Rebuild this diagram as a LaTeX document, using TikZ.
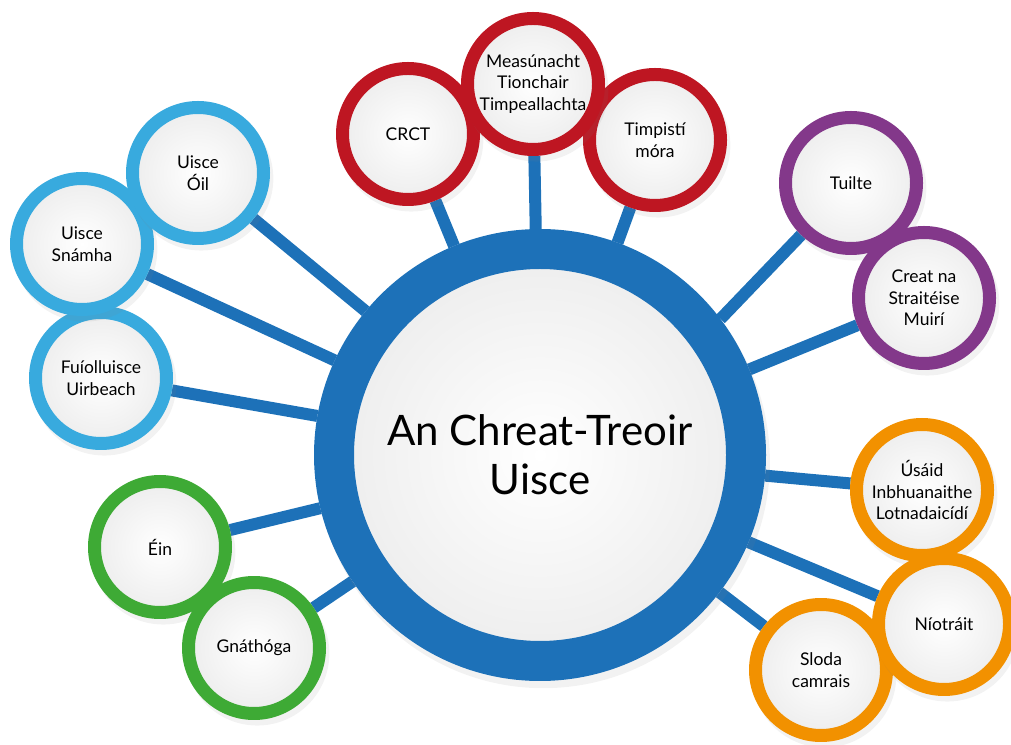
\documentclass[tikz,border=0pt]{standalone}
\usepackage{fontspec}
\setmainfont{Lato}
\usetikzlibrary{backgrounds,shadows}

\definecolor{hubblue}{RGB}{29,113,184}
\definecolor{ringred}{RGB}{190,22,34}
\definecolor{ringpurple}{RGB}{131,56,138}
\definecolor{ringsky}{RGB}{56,170,222}
\definecolor{ringgreen}{RGB}{62,170,53}
\definecolor{ringorange}{RGB}{242,145,0}

\begin{document}
\begin{tikzpicture}[x=1pt, y=1pt, line cap=round, line join=round,
		hub/.style={circle, draw=hubblue, line width=40pt, minimum size=412pt, inner sep=0pt,
			inner color=white, outer color=black!7, align=center,
			font=\fontsize{42}{49}\selectfont,
			drop shadow={shadow xshift=3pt, shadow yshift=-6pt, shadow scale=1.1, opacity=.1}},
		sat/.style={circle, draw=#1, line width=13pt, minimum size=131pt, inner sep=0pt,
			inner color=white, outer color=black!7, align=center,
			font=\fontsize{17.5}{21.5}\selectfont,
			drop shadow={shadow xshift=3pt, shadow yshift=-5pt, shadow scale=1.1, opacity=.1}},
		link/.style={draw=hubblue, line width=12pt, line cap=butt}]
	
	\useasboundingbox (0,0) rectangle (1011,744);
	
	% hub
	\node[hub] (main) at (540,289) {An Chreat-Treoir\\Uisce};
	
	% red group (top)
	\node[sat=ringred] (crct) at (408,610) {CRCT};
	\node[sat=ringred] (timp) at (655,604) {Timpistí\\móra};
	\node[sat=ringred] (eia) at (533,660) {Measúnacht\\Tionchair\\Timpeallachta};
	
	% purple group (top right)
	\node[sat=ringpurple] (tuilte) at (851,561) {Tuilte};
	\node[sat=ringpurple] (creat) at (924,446) {Creat na\\Straitéise\\Muirí};
	
	% orange group (bottom right)
	\node[sat=ringorange] (usaid) at (922,254) {Úsáid\\Inbhuanaithe\\Lotnadaicídí};
	\node[sat=ringorange] (sloda) at (821,74) {Sloda\\camrais};
	\node[sat=ringorange] (niot) at (944,120) {Níotráit};
	
	% green group (bottom left)
	\node[sat=ringgreen] (ein) at (160,197) {Éin};
	\node[sat=ringgreen] (gnath) at (254,96) {Gnáthóga};
	
	% light blue group (left)
	\node[sat=ringsky] (fuiol) at (101,366) {Fuíolluisce\\Uirbeach};
	\node[sat=ringsky] (snamha) at (82,500) {Uisce\\Snámha};
	\node[sat=ringsky] (oil) at (198,571) {Uisce\\Óil};
	
	% spokes behind the circles
	\begin{pgfonlayer}{background}
		\foreach \s in {crct,eia,timp,creat,usaid,niot,sloda,gnath,ein,fuiol,snamha,oil}
		\draw[link] (main) -- (\s);
		\draw[link] (main.37) -- (tuilte);
	\end{pgfonlayer}
	
\end{tikzpicture}
\end{document}
